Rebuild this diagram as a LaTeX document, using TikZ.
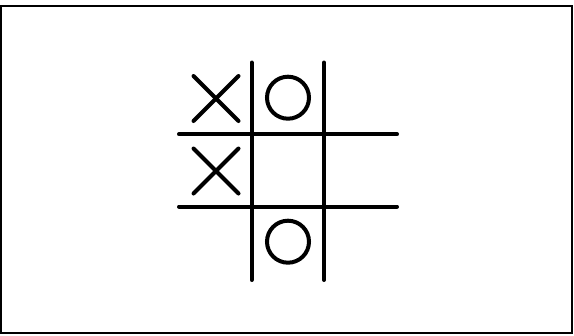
\documentclass[tikz,border=0pt]{standalone}
\usepackage{tikz}
\usetikzlibrary{positioning}

\begin{document}
\begin{tikzpicture}[x=0.03cm, y=-0.03cm,
    gridline/.style={line width=0.12cm, line cap=round},
    piece/.style={line width=0.12cm, line cap=round}]
  \def\xr{22.5}
  \def\orad{21}

  \useasboundingbox (0,0) rectangle (574,336);
  \draw[line width=0.06cm] (1.5,6) rectangle (572,333);

  % board
  \draw[gridline] (251.7,62.5) -- (251.7,280);
  \draw[gridline] (324,62.5) -- (324,280);
  \draw[gridline] (179,134.3) -- (397,134.3);
  \draw[gridline] (179,206.5) -- (397,206.5);

  % cell centres
  \coordinate (a1) at (216,98.5);
  \coordinate (b1) at (288,97.7);
  \coordinate (a2) at (216,171);
  \coordinate (b3) at (288,241.7);

  % crosses
  \foreach \c in {a1,a2} {
    \draw[piece] ([shift={(-\xr,-\xr)}]\c) -- ([shift={(\xr,\xr)}]\c);
    \draw[piece] ([shift={(-\xr,\xr)}]\c) -- ([shift={(\xr,-\xr)}]\c);
  }
  % noughts
  \foreach \c in {b1,b3}
    \draw[piece] (\c) circle[radius=\orad];
\end{tikzpicture}
\end{document}
